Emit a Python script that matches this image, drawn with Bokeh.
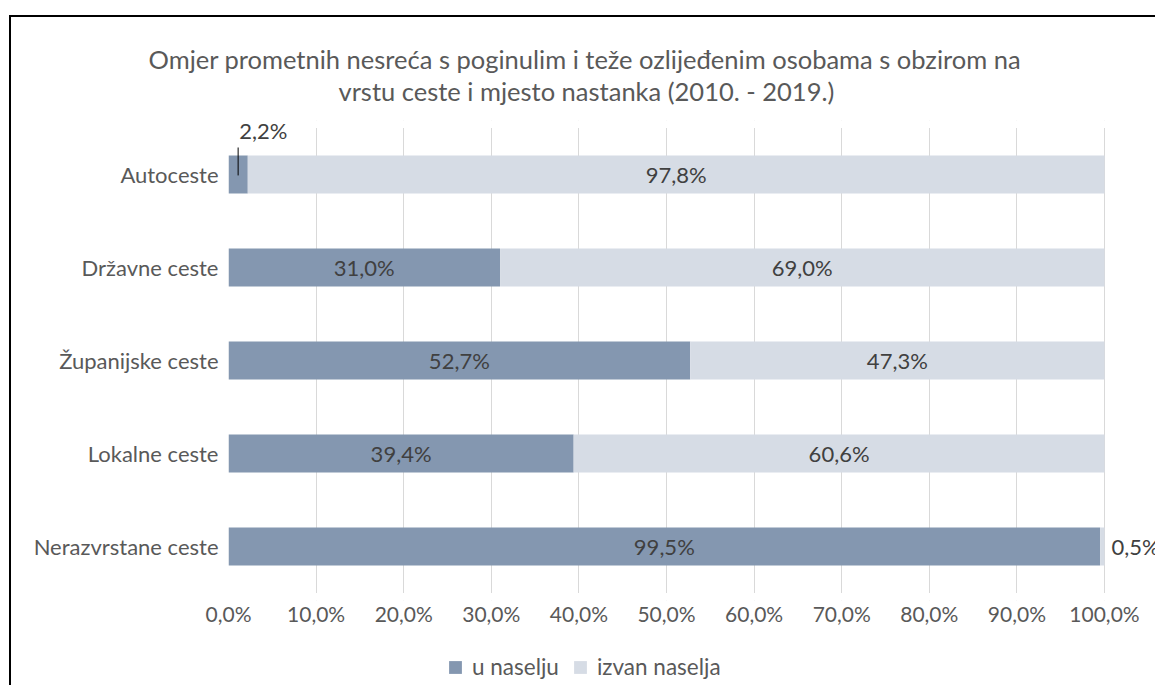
from bokeh.plotting import figure
from bokeh.layouts import column
from bokeh.models import (FactorRange, Range1d, FixedTicker, Legend,
                          LegendItem, ColumnDataSource, Title, BoxAnnotation)
from bokeh.embed import file_html
from bokeh.resources import INLINE
from bokeh.core.properties import value

# ---------------- data ----------------
categories = ["Autoceste", "Državne ceste", "Županijske ceste",
              "Lokalne ceste", "Nerazvrstane ceste"]
u_naselju = [2.2, 31.0, 52.7, 39.4, 99.5]
izvan_naselja = [97.8, 69.0, 47.3, 60.6, 0.5]
series_names = ["u naselju", "izvan naselja"]
tick_values = [0, 10, 20, 30, 40, 50, 60, 70, 80, 90, 100]
tick_labels = ["0,0%", "10,0%", "20,0%", "30,0%", "40,0%", "50,0%",
               "60,0%", "70,0%", "80,0%", "90,0%", "100,0%"]
title_lines = ["Omjer prometnih nesreća s poginulim i teže ozlijeđenim osobama s obzirom na",
               "vrstu ceste i mjesto nastanka (2010. - 2019.)"]

# ---------------- style ----------------
FONT = "Lato"
TEXT = "#595959"
LABEL = "#404040"
DARK = "#8497b0"
LIGHT = "#d6dce5"
GRID = "#d9d9d9"

W = 1144                    # canvas width
H_MAIN, H_LEG = 633, 35     # canvas heights
FL, FT = 217, 103           # frame offsets
FRAME_H = 480
FB = H_MAIN - FT - FRAME_H
BAND = 93.0
PX_PER_PCT = 8.76
n = len(categories)
PAD = (FRAME_H - n * BAND) / 2 / BAND
x_end = (W - FL) / PX_PER_PCT

def fmt(v):
    return ("%.1f" % v).replace(".", ",") + "%"

ypos = [n - i - 0.5 for i in range(n)]
totals = [a + b for a, b in zip(u_naselju, izvan_naselja)]

src = ColumnDataSource(dict(cat=categories, u=u_naselju, i=izvan_naselja, total=totals))

p = figure(width=W, height=H_MAIN, x_range=Range1d(0, x_end),
           y_range=FactorRange(factors=categories[::-1], range_padding=PAD,
                               range_padding_units="absolute"),
           output_backend="svg", toolbar_location=None,
           min_border_left=FL, min_border_right=0, min_border_top=FT,
           min_border_bottom=FB, outline_line_color=None,
           background_fill_color="white", border_fill_color="white")

# white masks so that the grid only spans the category bands
p.add_layout(BoxAnnotation(bottom=n, fill_color="white", fill_alpha=1,
                           line_color=None, level="underlay"))
p.add_layout(BoxAnnotation(top=0, fill_color="white", fill_alpha=1,
                           line_color=None, level="underlay"))

r1 = p.hbar(y="cat", left=0, right="u", height=38 / BAND, source=src,
            fill_color=DARK, line_color=None)
r2 = p.hbar(y="cat", left="u", right="total", height=38 / BAND, source=src,
            fill_color=LIGHT, line_color=None)

LBL_SIZE = "22px"
in_x, in_y, in_t = [], [], []
for k in range(n):
    u, iz, y = u_naselju[k], izvan_naselja[k], ypos[k]
    if u >= 5:
        in_x.append(u / 2); in_y.append(y); in_t.append(fmt(u))
    else:
        p.segment(x0=[u / 2], y0=[y - 0.01], x1=[u / 2], y1=[y + 27 / BAND],
                  line_color="black", line_width=1)
        p.text(x=[u / 2], y=[y + 44 / BAND], text=[fmt(u)], x_offset=1,
               text_align="left", text_baseline="middle",
               text_font=value(FONT), text_font_size=LBL_SIZE, text_color=LABEL)
    if iz >= 5:
        in_x.append(u + iz / 2); in_y.append(y); in_t.append(fmt(iz))
    else:
        p.text(x=[u + iz], y=[y], text=[fmt(iz)], x_offset=7,
               text_align="left", text_baseline="middle",
               text_font=value(FONT), text_font_size=LBL_SIZE, text_color=LABEL)
p.text(x=in_x, y=in_y, text=in_t, text_align="center", text_baseline="middle",
       text_font=value(FONT), text_font_size=LBL_SIZE, text_color=LABEL)

# title (two lines, nearest-to-frame first)
p.title.text = ""
p.title.visible = False
t2 = Title(text=title_lines[1], align="left", offset=110, standoff=30,
           text_font=FONT, text_font_size="25.5px", text_color=TEXT,
           text_font_style="normal")
t1 = Title(text=title_lines[0], align="left", offset=-80, standoff=-31,
           text_font=FONT, text_font_size="25.5px", text_color=TEXT,
           text_font_style="normal")
p.add_layout(t2, "above")
p.add_layout(t1, "above")

# axes
p.xaxis.ticker = FixedTicker(ticks=tick_values)
p.xaxis.major_label_overrides = {t: l for t, l in zip(tick_values, tick_labels)}
for ax in (p.xaxis, p.yaxis):
    ax.axis_line_color = None
    ax.major_tick_line_color = None
    ax.minor_tick_line_color = None
    ax.major_tick_out = 0
    ax.major_tick_in = 0
    ax.minor_tick_out = 0
    ax.major_label_text_font = FONT
    ax.major_label_text_color = TEXT
p.xaxis.major_label_text_font_size = "21px"
p.yaxis.major_label_text_font_size = "22px"
p.xaxis.major_label_standoff = 0
p.yaxis.major_label_standoff = 10
p.xgrid.grid_line_color = GRID
p.ygrid.grid_line_color = None

# legend in its own strip below the chart (frames are aligned in the column)
pl = figure(width=W, height=H_LEG, x_range=Range1d(0, 1), y_range=Range1d(0, 1),
            output_backend="svg", toolbar_location=None,
            x_axis_location=None, y_axis_location=None, min_border=0,
            outline_line_color=None, background_fill_color="white",
            border_fill_color="white")
pl.grid.visible = False
l1 = pl.hbar(y=[-5], left=[0], right=[0.5], height=0.5, fill_color=DARK, line_color=None)
l2 = pl.hbar(y=[-5], left=[0], right=[0.5], height=0.5, fill_color=LIGHT, line_color=None)
legend = Legend(items=[LegendItem(label=series_names[0], renderers=[l1]),
                       LegendItem(label=series_names[1], renderers=[l2])],
                orientation="horizontal", location=(219, 5),
                border_line_color=None, background_fill_alpha=0,
                padding=0, margin=0, spacing=13, glyph_width=16, glyph_height=16,
                label_standoff=9, label_text_font=FONT, label_text_font_size="22.5px",
                label_text_color=TEXT)
pl.add_layout(legend)

layout = column(p, pl, spacing=0)
layout.styles = {"border-left": "2px solid #000", "border-top": "2px solid #000",
                 "margin-left": "9px", "margin-top": "15px"}

open("out.html", "w").write(file_html(layout, INLINE))
